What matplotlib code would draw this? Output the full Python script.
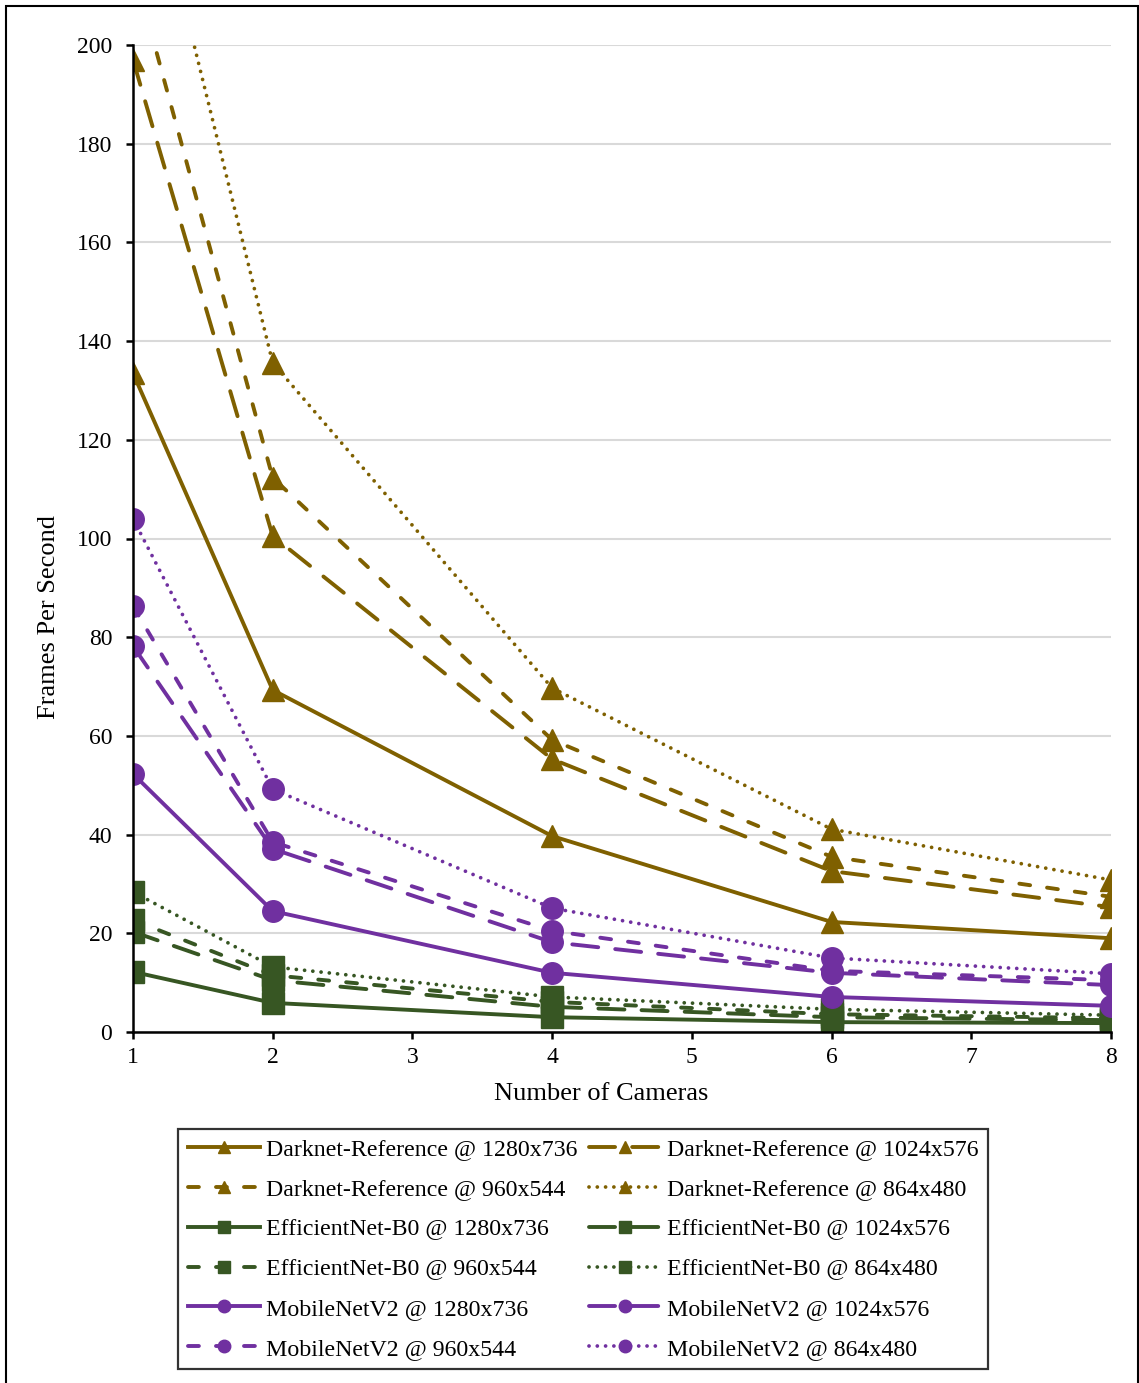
import matplotlib
matplotlib.use('Agg')
import matplotlib.pyplot as plt
from matplotlib.patches import Rectangle

# ── Data ───────────────────────────────────────────────
cameras = [1, 2, 4, 6, 8]
resolutions = ['1280x736', '1024x576', '960x544', '864x480']

darknet_1280 = [133.5, 69.3, 39.7, 22.3, 19.0]
darknet_1024 = [197.0, 100.5, 55.3, 32.6, 25.3]
darknet_960 = [216.0, 112.3, 59.2, 35.5, 27.4]
darknet_864 = [250.0, 135.6, 69.7, 41.1, 30.8]

effnet_1280 = [12.2, 5.9, 3.0, 2.0, 1.8]
effnet_1024 = [20.3, 10.5, 5.1, 3.0, 2.4]
effnet_960 = [22.7, 11.5, 6.1, 3.6, 2.8]
effnet_864 = [28.4, 13.2, 7.1, 4.6, 3.4]

mobnet_1280 = [52.3, 24.5, 12.0, 7.1, 5.3]
mobnet_1024 = [78.2, 37.1, 18.2, 12.0, 9.5]
mobnet_960 = [86.3, 38.5, 20.5, 12.4, 10.5]
mobnet_864 = [104.0, 49.2, 25.1, 15.0, 11.8]

# ── Style ──────────────────────────────────────────────
DARK = '#7F6000'
GREEN = '#375623'
PURPLE = '#7030A0'

plt.rcParams.update({
    'font.family': 'Liberation Serif',
    'font.size': 17,
})

line_styles = {
    '1280x736': dict(linestyle='-', lw=2.8),
    '1024x576': dict(linestyle=(0, (6.7, 4.4)), lw=2.8, dash_capstyle='round'),
    '960x544': dict(linestyle=(0, (2.8, 4.4)), lw=2.8, dash_capstyle='round'),
    '864x480': dict(linestyle=(0, (0.01, 2.2)), lw=2.7, dash_capstyle='round'),
}

models = [
    ('Darknet-Reference', DARK, '^', [darknet_1280, darknet_1024, darknet_960, darknet_864]),
    ('EfficientNet-B0', GREEN, 's', [effnet_1280, effnet_1024, effnet_960, effnet_864]),
    ('MobileNetV2', PURPLE, 'o', [mobnet_1280, mobnet_1024, mobnet_960, mobnet_864]),
]

W, H = 1139, 1383
fig = plt.figure(figsize=(W / 100, H / 100), dpi=100)
ax = fig.add_axes([133 / W, 1 - 1032 / H, (1111 - 133) / W, (1032 - 45) / H])

handles = {}
for name, color, marker, series in models:
    for res, vals in zip(resolutions, series):
        h, = ax.plot(cameras, vals, color=color, marker=marker, markersize=15.5,
                     label=f'{name} @ {res}', **line_styles[res])
        handles[(name, res)] = h

ax.set_xlim(1, 8)
ax.set_ylim(0, 200)
ax.set_yticks(range(0, 201, 20))
ax.set_xticks(range(1, 9))
ax.grid(True, axis='y', color='#D9D9D9', linewidth=1.5)
ax.set_axisbelow(True)
for s in ['top', 'right']:
    ax.spines[s].set_visible(False)
for s in ['left', 'bottom']:
    ax.spines[s].set_linewidth(1.8)
ax.tick_params(direction='out', length=5, width=1.8, labelsize=17)
ax.tick_params(axis='y', pad=10)
ax.tick_params(axis='x', pad=6)
ax.set_xlabel('Number of Cameras', fontsize=19)
ax.set_ylabel('Frames Per Second', fontsize=19)
ax.xaxis.set_label_coords((601 - 133) / 978, (1032 - 1083) / 987)
ax.yaxis.set_label_coords((60 - 133) / 978, (1032 - 617) / 987)

# Legend rows: (1280, 1024), (960, 864) for each model
order = []
for name, _, _, _ in models:
    order += [(name, '1280x736'), (name, '1024x576'), (name, '960x544'), (name, '864x480')]
col1 = [k for i, k in enumerate(order) if i % 2 == 0]
col2 = [k for i, k in enumerate(order) if i % 2 == 1]
keys = col1 + col2
leg = fig.legend([handles[k] for k in keys], [handles[k].get_label() for k in keys],
                 ncol=2, loc='upper left', bbox_to_anchor=(178 / W, 1 - 1129 / H),
                 bbox_transform=fig.transFigure, fontsize=17.2, frameon=True,
                 fancybox=False, edgecolor='black', handlelength=3.05,
                 handletextpad=0.25, columnspacing=0.45, labelspacing=0.76,
                 borderpad=0.4, borderaxespad=0)
leg.get_frame().set_linewidth(1.6)
for lh in leg.legend_handles:
    lh.set_markersize(9)

# Outer border
fig.patches.append(Rectangle((6 / W, -0.01), 1132 / W, 1 - 6 / H + 0.01,
                             transform=fig.transFigure, fill=False,
                             edgecolor='black', linewidth=1.5))

fig.savefig('out.png', dpi=100)
